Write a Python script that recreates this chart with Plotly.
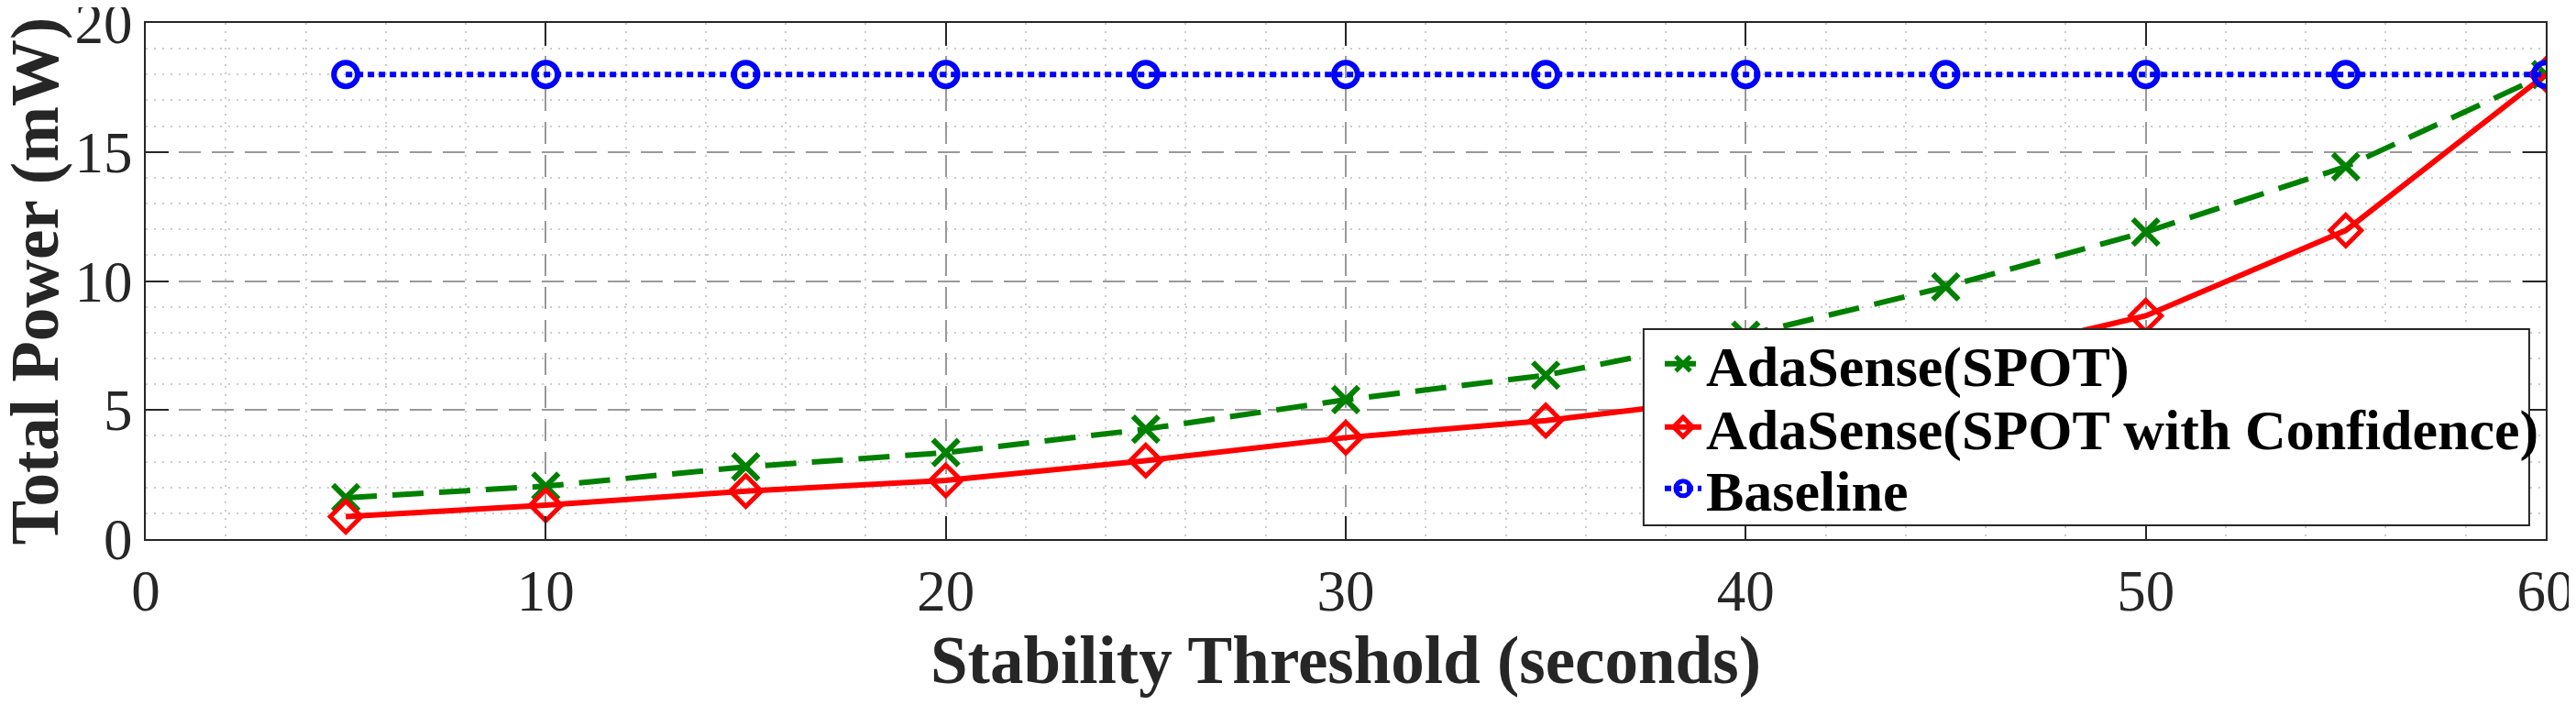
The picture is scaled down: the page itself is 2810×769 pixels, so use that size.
import plotly.graph_objects as go

# stability threshold (s) vs total power (mW)
threshold = [5, 10, 15, 20, 25, 30, 35, 40, 45, 50, 55, 60]
spot = [1.6, 2.05, 2.8, 3.35, 4.26, 5.4, 6.35, 7.9, 9.77, 11.9, 14.43, 18.0]
spot_conf = [0.87, 1.31, 1.86, 2.27, 3.04, 3.93, 4.59, 5.53, 6.83, 8.65, 11.96, 18.0]
baseline = [18, 18, 18, 18, 18, 18, 18, 18, 18, 18, 18, 18]

FONT = "Liberation Serif"
AXIS = "#262626"

fig = go.Figure()

fig.add_trace(go.Scatter(
    x=threshold, y=spot, name="<b>AdaSense(SPOT)</b>", mode="lines+markers",
    line=dict(color="#008000", width=6, dash="34px,17px"),
    marker=dict(symbol="x-thin-open", size=28, line=dict(color="#008000", width=6)),
    legend="legend",
))
fig.add_trace(go.Scatter(
    x=threshold, y=spot_conf, name="<b>AdaSense(SPOT with Confidence)</b>", mode="lines+markers",
    line=dict(color="#ff0000", width=6),
    marker=dict(symbol="diamond-open", size=26, color="#ff0000",
                line=dict(color="#ff0000", width=5)),
    legend="legend2",
))
fig.add_trace(go.Scatter(
    x=threshold, y=baseline, name="<b>Baseline</b>", mode="lines+markers",
    line=dict(color="#0000ff", width=6, dash="7px,5px"),
    marker=dict(symbol="circle-open", size=26, color="#0000ff", line=dict(color="#0000ff", width=6)),
    legend="legend3",
))

axis_common = dict(
    showline=True, linecolor=AXIS, linewidth=2, mirror="ticks",
    ticks="inside", ticklen=25, tickwidth=2, tickcolor=AXIS,
    showgrid=True, gridcolor="#999999", gridwidth=2, griddash="24px,12px",
    zeroline=False, ticklabeloverflow="allow", automargin=False,
    tickfont=dict(family=FONT, size=63, color=AXIS),
)

fig.update_xaxes(
    range=[0, 60], dtick=10,
    minor=dict(dtick=2, showgrid=True, gridcolor="#cccccc", gridwidth=2, griddash="2px,7px", ticks=""),
    **axis_common,
)
fig.update_yaxes(
    range=[0, 20], dtick=5,
    minor=dict(dtick=1, showgrid=True, gridcolor="#cccccc", gridwidth=2, griddash="2px,7px", ticks=""),
    **axis_common,
)

# axis titles as annotations so they can sit right at the page edge like the original
fig.add_annotation(text="<b>Stability Threshold (seconds)</b>", xref="paper", yref="paper",
                   x=0.5, y=-0.236, xanchor="center", yanchor="middle", showarrow=False,
                   font=dict(family=FONT, size=73, color=AXIS))
fig.add_annotation(text="<b>Total Power (mW)</b>", xref="paper", yref="paper",
                   x=-0.0462, y=0.5, xanchor="center", yanchor="middle", showarrow=False,
                   textangle=-90, font=dict(family=FONT, size=73, color=AXIS))

# legend box drawn as one frame, entries placed as three rows inside it
box_x0, box_x1, box_y0, box_y1 = 0.6241, 0.9931, 0.0266, 0.4067
rows_y = [0.3393, 0.2167, 0.0977]
fig.add_shape(type="rect", xref="paper", yref="paper",
              x0=box_x0, x1=box_x1, y0=box_y0, y1=box_y1,
              line=dict(color=AXIS, width=2), fillcolor="white", layer="above")

legend_common = dict(
    xanchor="left", yanchor="middle", bgcolor="rgba(0,0,0,0)", borderwidth=0,
    font=dict(family=FONT, size=62, color="black"), itemwidth=40,
)
fig.update_layout(
    legend=dict(x=0.631, y=rows_y[0], **legend_common),
    legend2=dict(x=0.631, y=rows_y[1], **legend_common),
    legend3=dict(x=0.631, y=rows_y[2], **legend_common),
)

# the page body keeps its default 8px margin, so the figure is 16px smaller than the window
fig.update_layout(
    width=2802, height=761, autosize=False,
    margin=dict(l=151, r=33, t=17, b=181),
    paper_bgcolor="white", plot_bgcolor="white",
    font=dict(family=FONT, color="black"),
    showlegend=True,
)

fig.write_html("out.html")
